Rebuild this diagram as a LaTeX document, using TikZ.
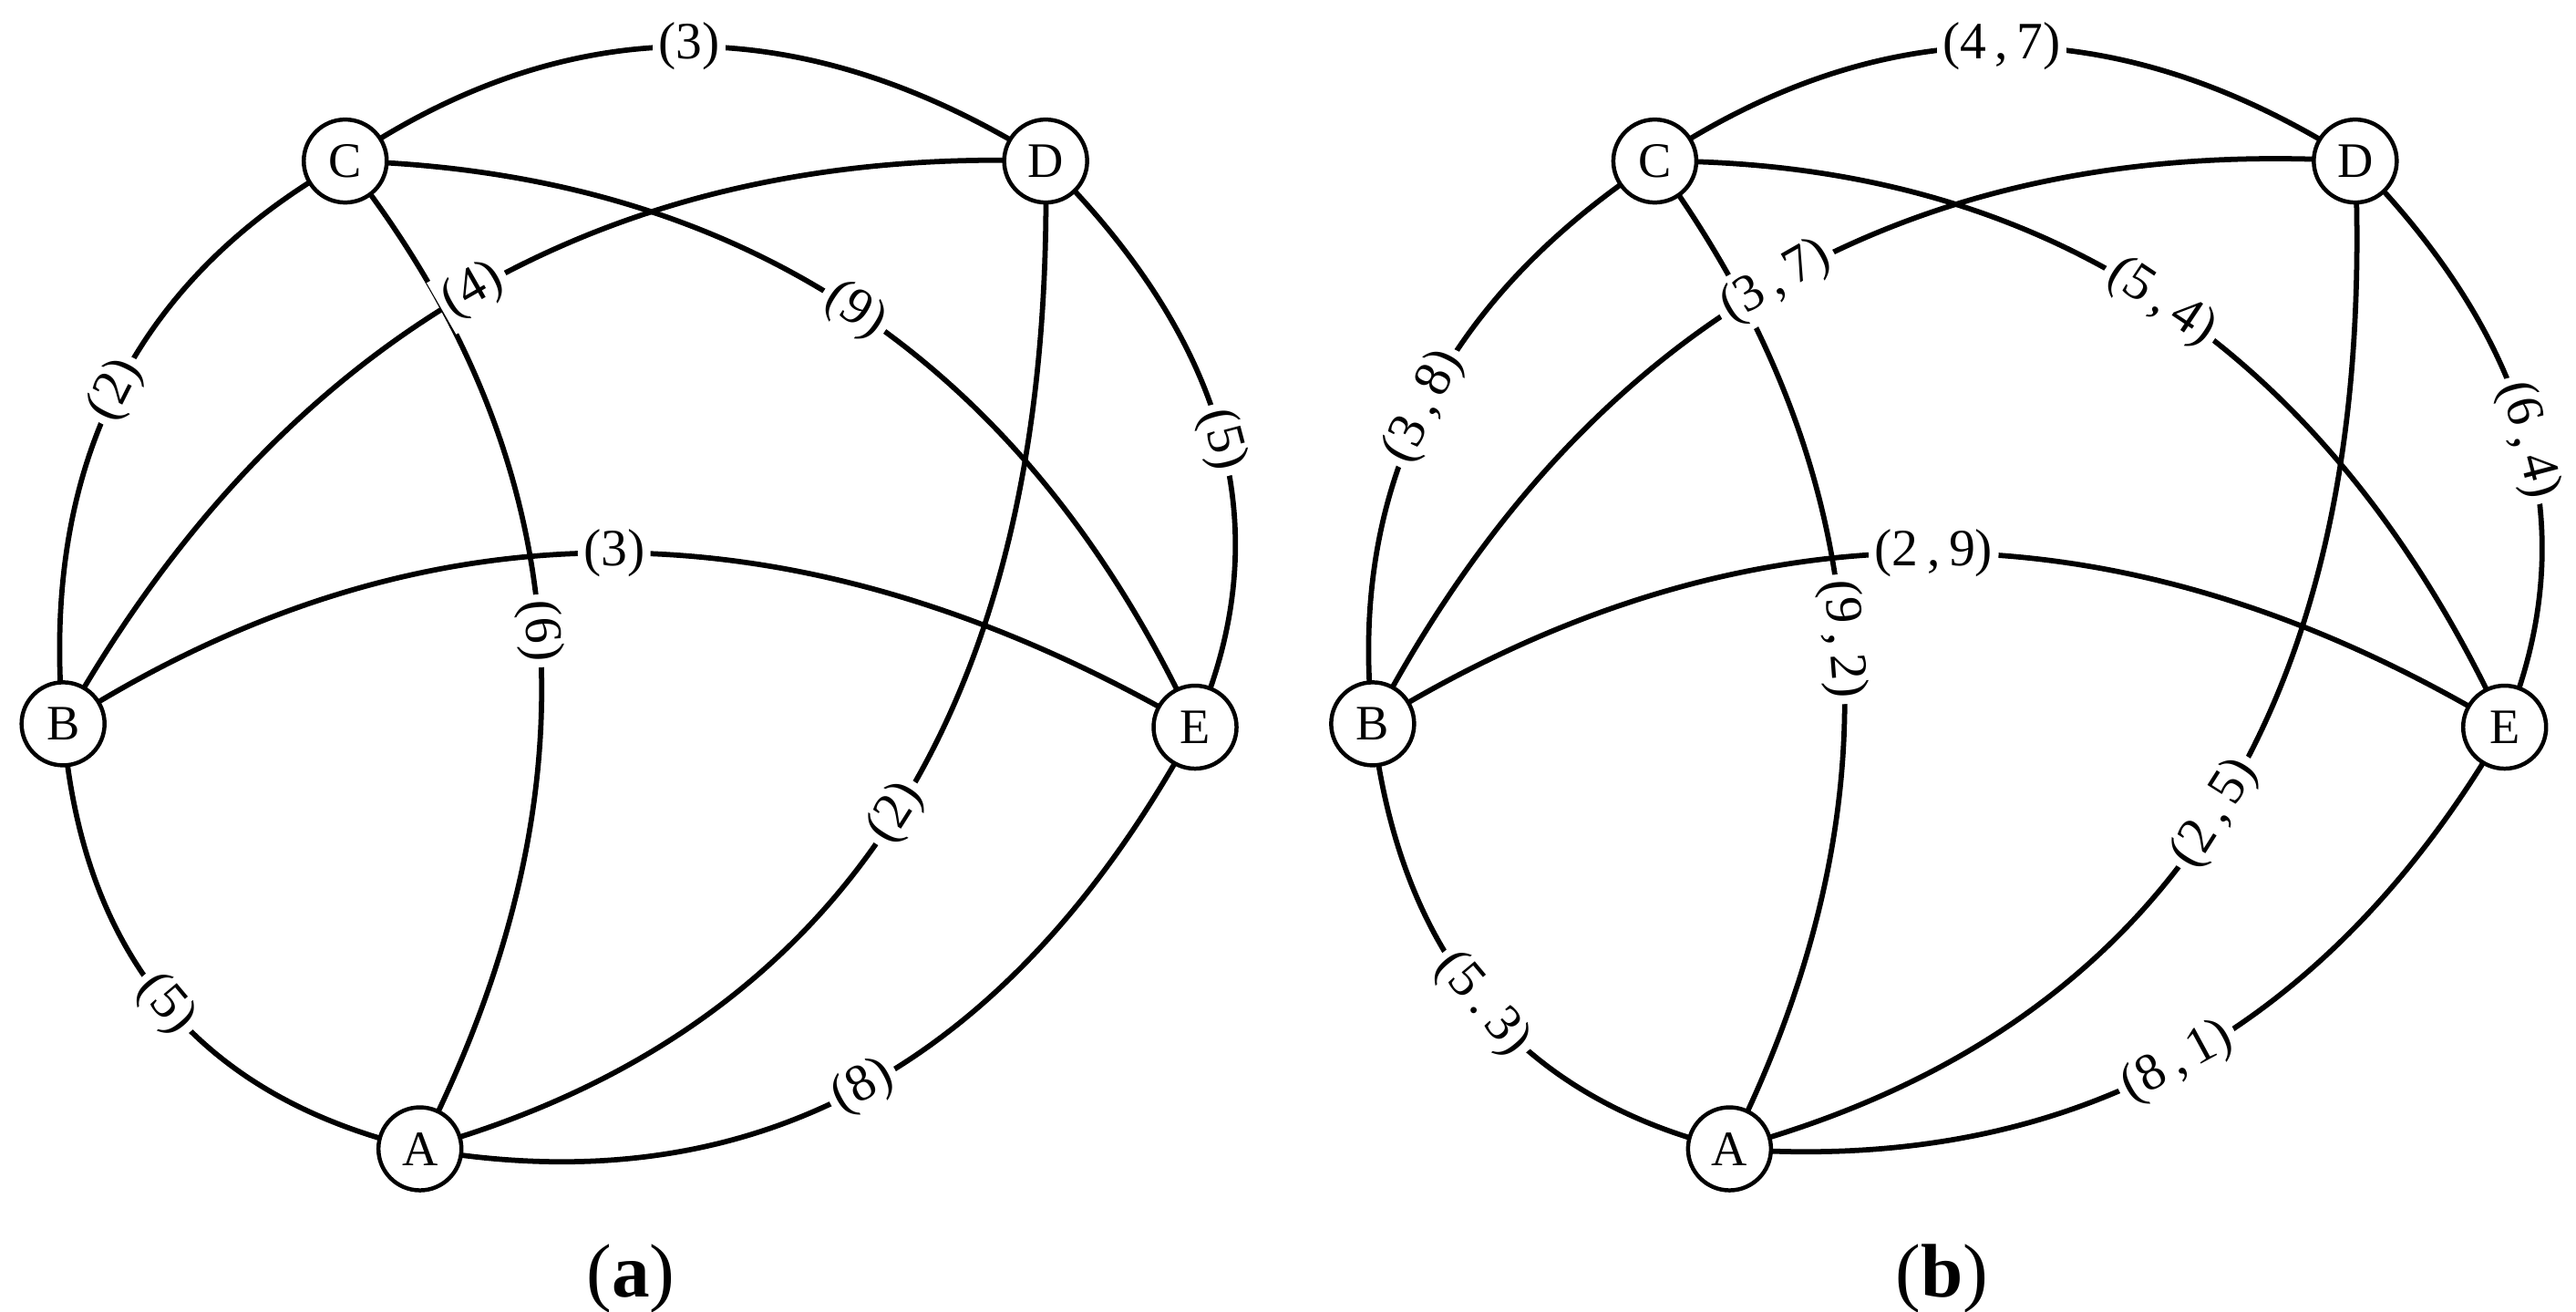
\documentclass[tikz,border=0pt]{standalone}
\usepackage{fontspec}
\setmainfont{Liberation Serif}
\usetikzlibrary{calc,backgrounds}
\tikzset{
  vtx/.style={circle,draw,line width=1.4pt,fill=white,minimum size=1.0cm,inner sep=0pt,font=\fontsize{17}{20}\selectfont},
  edge/.style={line width=1.8pt},
  lab/.style={pos=0.5,sloped,fill=white,inner sep=2pt,font=\fontsize{18}{21}\selectfont}
}
\newcommand\grEdge[4]{\draw[edge] (#1.center) .. controls ($1.3333*(#3)-0.3333*(#2.center)$) and ($1.3333*(#3)-0.3333*(#1.center)$) .. (#2.center) node[lab]{#4};}
\begin{document}
\begin{tikzpicture}[x=0.02cm,y=-0.02cm]
\useasboundingbox (0,0) rectangle (1552,790);
\foreach \p/\dx in {a/0,b/789}{
\begin{scope}[xshift=\dx*0.02cm]
\node[vtx] (\p C) at (208,97) {C};
\node[vtx] (\p D) at (630,97) {D};
\node[vtx] (\p B) at (38,436) {B};
\node[vtx] (\p E) at (720,438) {E};
\node[vtx] (\p A) at (253,692) {A};
\end{scope}}
\begin{scope}[on background layer]
\grEdge{aC}{aD}{415,28}{(3)}
\grEdge{aC}{aB}{70,235}{(2)}
\grEdge{aD}{aE}{736,265}{(5)}
\grEdge{aB}{aA}{100,605}{(5)}
\grEdge{aA}{aE}{520,655}{(8)}
\grEdge{aC}{aA}{325,380}{(6)}
\grEdge{aD}{aB}{285,175}{(4)}
\grEdge{aC}{aE}{515,187}{(9)}
\grEdge{aB}{aE}{370,333}{(3)}
\grEdge{aD}{aA}{540,490}{(2)}
\grEdge{bC}{bD}{1206,28}{(4\,,\,7)}
\grEdge{bC}{bB}{858,245}{(3\,,\,8)}
\grEdge{bD}{bE}{1523,265}{(6\,,\,4)}
\grEdge{bB}{bA}{893,605}{(5\,.\,3)}
\grEdge{bA}{bE}{1312,640}{(8\,,\,1)}
\grEdge{bC}{bA}{1110,385}{(9\,,\,2)}
\grEdge{bD}{bB}{1070,170}{(3\,,\,7)}
\grEdge{bC}{bE}{1302,182}{(5\,,\,4)}
\grEdge{bB}{bE}{1165,333}{(2\,,\,9)}
\grEdge{bD}{bA}{1335,490}{(2\,,\,5)}
\end{scope}
\node[font=\fontsize{26}{30}\selectfont] (la) at (380,770) {(\textbf{a})};
\node[font=\fontsize{26}{30}\selectfont] (lb) at (1170,770) {(\textbf{b})};
\end{tikzpicture}
\end{document}
